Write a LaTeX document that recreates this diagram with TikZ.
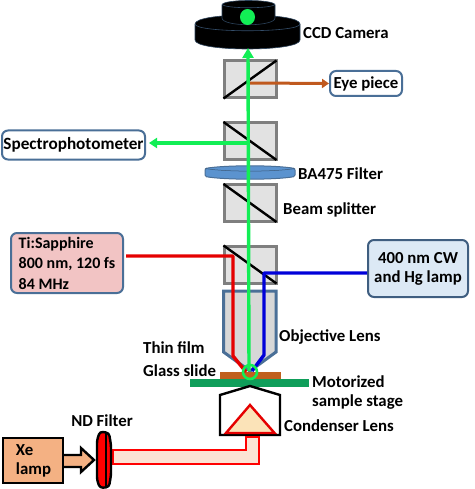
\documentclass[tikz,border=0pt]{standalone}
\usepackage{fontspec}
\setmainfont{Carlito}
\usetikzlibrary{arrows.meta,calc}
\definecolor{cubegray}{HTML}{7F7F7F}
\definecolor{cubefill}{HTML}{E2E2E2}
\definecolor{beamgreen}{HTML}{12EE55}
\definecolor{lensblue}{HTML}{4A6F97}
\definecolor{filterblue}{HTML}{5B93CF}
\definecolor{slidebrown}{HTML}{C0601E}
\definecolor{stagegreen}{HTML}{0F9E5A}
\definecolor{eyeorange}{HTML}{C0591E}
\definecolor{lamporange}{HTML}{F4B183}
\definecolor{tipink}{HTML}{F2C4C4}
\definecolor{cwblue}{HTML}{DCE9F5}
\definecolor{beampeach}{HTML}{FBE3D4}
\definecolor{triyellow}{HTML}{FBE3B8}
\tikzset{
  lbl/.style={font=\bfseries\fontsize{16.8}{19}\selectfont,text=black,inner sep=0pt},
  lblL/.style={lbl,anchor=west},
  cube/.style={draw=cubegray,fill=cubefill,line width=3pt,minimum width=52pt,minimum height=37pt,inner sep=0pt},
  diag/.style={black,line width=2.4pt},
  gbeam/.style={beamgreen,line width=3.4pt},
  rbeam/.style={red!90!black,line width=3.4pt},
  bbeam/.style={blue!85!black,line width=3.4pt},
  cambody/.style={fill=black,draw=lensblue!60!black,line width=.6pt},
  box/.style={rounded corners=6pt,line width=2pt,lbl,align=left}
}
\begin{document}
\begin{tikzpicture}[x=1pt,y=-1pt]
\useasboundingbox (0,0) rectangle (474,489);
% camera
\path[cambody] (195,24) -- (195,40) .. controls (195,52) and (300,52) .. (300,40) -- (300,24) .. controls (300,12) and (195,12) .. (195,24) -- cycle;
\draw[lensblue!70!black,line width=.6pt] (195,24) .. controls (195,33) and (300,33) .. (300,24);
\path[cambody] (222,5) -- (222,18) .. controls (222,27) and (275,27) .. (275,18) -- (275,5) .. controls (275,-1) and (222,-1) .. (222,5) -- cycle;
\draw[lensblue!70!black,line width=.6pt] (222,4) .. controls (222,9) and (275,9) .. (275,4);
\fill[beamgreen] (247.5,17) ellipse [x radius=7.5,y radius=8];
\coordinate (camin) at (248,48);
\node[lblL] (ccd) at (303,33) {CCD Camera};
% cubes
\node[cube] (c1) at (250,79.5) {};
\node[cube] (c2) at (250,141) {};
\node[cube] (c3) at (250,203) {};
\node[cube] (c4) at (250,264.5) {};
\draw[diag] ($(c1.south west)+(1,-1)$) -- ($(c1.north east)+(-1,1)$);
\draw[diag] ($(c2.north west)+(1,1)$) -- ($(c2.south east)+(-1,-1)$);
\draw[diag] ($(c3.north west)+(1,1)$) -- ($(c3.south east)+(-1,-1)$);
\draw[diag] ($(c4.north west)+(1,1)$) -- ($(c4.south east)+(-1,-1)$);
% filter
\path[draw=lensblue,fill=filterblue,line width=1pt,rounded corners=1.5pt] (205,168.5) .. controls (225,165) and (275,165) .. (295,168.5) -- (295,176.5) .. controls (275,180) and (225,180) .. (205,176.5) -- cycle;
\draw[lensblue!80!black,line width=.5pt] (205,168.5) .. controls (225,172) and (275,172) .. (295,168.5);
\node[lblL] (ba) at (298,174) {BA475 Filter};
\node[lblL] (bs) at (283,210) {Beam splitter};
% objective
\path[draw=lensblue,fill=cubefill!95!black,line width=3pt] (223.5,291) -- (276,291) -- (276,352) -- (250,371) -- (223.5,352) -- cycle;
\node[lblL] (obj) at (279,337) {Objective Lens};
% slide and stage
\fill[slidebrown] (220,372) rectangle (281,380);
\fill[stagegreen] (190,379) rectangle (309,387);
\node[lblL] (thin) at (143,348) {Thin film};
\node[lblL] (glass) at (143,371) {Glass slide};
\node[lblL,align=left] (mot) at (312,392.5) {Motorized\\sample stage};
% boxes
\node[box,draw=lensblue,fill=tipink,minimum width=112pt,minimum height=60pt,font=\bfseries\fontsize{16}{20.5}\selectfont] (ti) at (67,263) {Ti:Sapphire\\800 nm, 120 fs\\84 MHz};
\node[box,draw=lensblue!85!black,fill=cwblue,minimum width=100pt,minimum height=57pt,align=center] (cw) at (418,268.5) {400 nm CW\\and Hg lamp};
\node[box,draw=lensblue,fill=white,minimum width=143pt,minimum height=29pt,align=center,font=\bfseries\fontsize{17.2}{19}\selectfont] (spec) at (73.5,145) {Spectrophotometer};
\node[box,draw=lensblue,fill=white,minimum width=72pt,minimum height=25pt,align=center] (eye) at (366,83.5) {Eye piece};
% beams
\coordinate (focus) at (250,372);
\coordinate (specin) at (149,143);
\draw[rbeam,line join=round] (126,256) -- (233,256) -- (233,356) -- (246,372);
\draw[bbeam,line join=round] (cw.west|-0,273) -- (264,273) -- (264,355) -- (252,371);
\draw[beamgreen,line width=2.6pt] (focus) circle (7);
\draw[gbeam,-{Triangle[length=10pt,width=11pt]}] (249,371) -- (camin);
\draw[gbeam,-{Triangle[length=8pt,width=10pt]}] (249,143) -- (specin);
\draw[eyeorange,line width=3pt,-{Triangle[length=7pt,width=9pt]}] (250,83) -- (eye.west);
% condenser
\draw[black,line width=2.4pt,fill=white] (220,435) -- (220,395) -- (250,386) -- (280,395) -- (280,435) -- cycle;
\draw[red!90!black,fill=triyellow,line width=2.4pt,line join=miter] (250,405) -- (274.5,433) -- (226,433) -- cycle;
\node[lblL] (cond) at (284,426) {Condenser Lens};
% white light
\draw[red,fill=beampeach,line width=2pt] (113,450) -- (245.5,450) -- (245.5,437) -- (258.5,437) -- (258.5,464) -- (113,464) -- cycle;
\node[draw=black,fill=lamporange,line width=2.4pt,minimum width=60pt,minimum height=45pt,lbl,text width=34pt,align=left] (xe) at (33,460.5) {Xe\\lamp};
\path[draw=black,fill=lamporange,line width=2.4pt] (xe.east|-0,455) -- (81,455) -- (81,448) -- (94,460) -- (81,472) -- (81,467) -- (xe.east|-0,467);
\path[draw=black,fill=red,line width=2.4pt,rounded corners=3pt] (100,431.5) -- (109,433) -- (111,445) -- (111,475) -- (109,487) -- (100,488) -- (97,480) -- (97,440) -- cycle;
\draw[black,line width=1.6pt] (106,433) -- (106,487);
\node[lbl] (nd) at (102,421) {ND Filter};
\end{tikzpicture}
\end{document}
